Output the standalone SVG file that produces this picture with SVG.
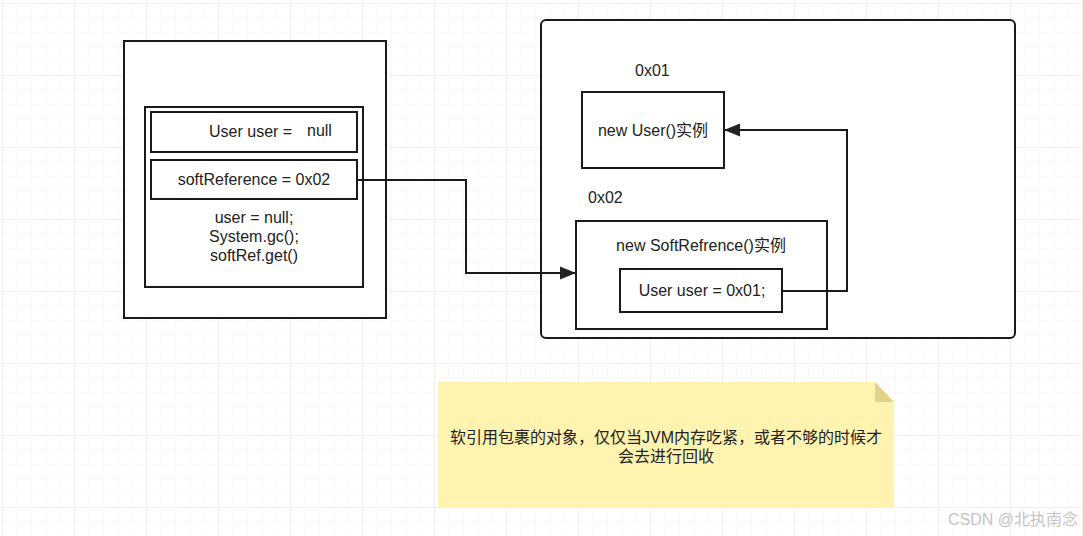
<svg xmlns="http://www.w3.org/2000/svg" width="1083" height="536" viewBox="0 0 1083 536">
<defs>
<pattern id="minor" x="2" y="3" width="14.4" height="14.4" patternUnits="userSpaceOnUse">
<path d="M0 0H14.4M0 0V14.4" fill="none" stroke="#f4f4f4" stroke-width="1"/>
</pattern>
<pattern id="major" x="2" y="3" width="72" height="72" patternUnits="userSpaceOnUse">
<path d="M0 0H72M0 0V72" fill="none" stroke="#e6e6e6" stroke-width="1"/>
</pattern>
<marker id="arr" viewBox="0 0 10 10" refX="10" refY="5" markerWidth="16" markerHeight="16" markerUnits="userSpaceOnUse" orient="auto">
<path d="M0 1L10 5L0 9z" fill="#222"/>
</marker>
<style>
.box{fill:#fff;stroke:#1a1a1a;stroke-width:2}
.t{font-family:"Liberation Sans","Noto Sans CJK SC",sans-serif;font-size:16px;fill:#222;text-anchor:middle}
.tl{font-family:"Liberation Sans","Noto Sans CJK SC",sans-serif;font-size:16px;fill:#222}
.edge{fill:none;stroke:#1a1a1a;stroke-width:2}
</style>
</defs>
<rect width="1083" height="536" fill="#fff"/>
<rect width="1083" height="536" fill="url(#minor)"/>
<rect width="1083" height="536" fill="url(#major)"/>

<g id="stack">
<rect class="box" x="124" y="41" width="262" height="277"/>
<rect class="box" x="145" y="107" width="218" height="180"/>
<text class="t" x="254" y="223">user = null;</text>
<text class="t" x="254" y="242">System.gc();</text>
<text class="t" x="254" y="261">softRef.get()</text>
</g>
<g id="user-var">
<rect class="box" x="151" y="112" width="206" height="40"/>
<text class="tl" x="209" y="137">User user =</text>
<text class="tl" x="307" y="136">null</text>
</g>
<g id="softref-var">
<rect class="box" x="151" y="160" width="206" height="39"/>
<text class="t" x="254" y="185">softReference = 0x02</text>
</g>

<g id="heap">
<rect class="box" x="541" y="20" width="474" height="318" rx="5"/>
</g>
<g id="user-instance">
<text class="tl" x="635" y="76">0x01</text>
<rect class="box" x="582" y="92" width="142" height="76"/>
<text class="t" x="653" y="136">new User()实例</text>
</g>
<g id="softref-instance">
<text class="tl" x="588" y="203">0x02</text>
<rect class="box" x="576" y="221" width="251" height="108"/>
<text class="t" x="701" y="251">new SoftRefrence()实例</text>
</g>
<g id="softref-field">
<rect class="box" x="620" y="269" width="162" height="43"/>
<text class="t" x="702" y="296">User user = 0x01;</text>
</g>

<g id="note">
<path d="M438 382H875L894 402V507H438Z" fill="#fff3b0"/>
<path d="M875 382L894 402H875Z" fill="#e3d38a"/>
<text class="t" x="666" y="443">软引用包裹的对象，仅仅当JVM内存吃紧，或者不够的时候才</text>
<text class="t" x="666" y="462">会去进行回收</text>
</g>

<g id="connectors">
<path class="edge" d="M357 180H466V273H576" marker-end="url(#arr)"/>
<path class="edge" d="M782 291H847V130H724" marker-end="url(#arr)"/>
</g>

<text x="1078" y="525" text-anchor="end" font-family="Liberation Sans,Noto Sans CJK SC,sans-serif" font-size="16" fill="#c4c4c4">CSDN @北执南念</text>
</svg>
